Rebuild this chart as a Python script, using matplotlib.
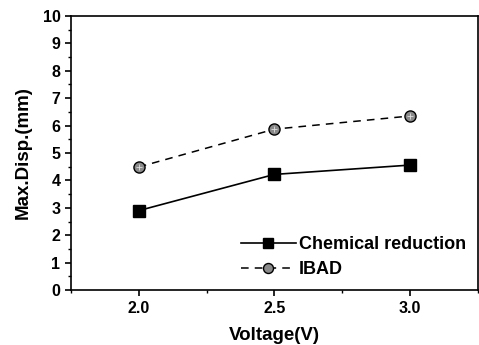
import numpy as np
import matplotlib.pyplot as plt
from matplotlib.ticker import MultipleLocator

plt.rcParams['font.family'] = ['Liberation Sans', 'DejaVu Sans']
plt.rcParams['font.weight'] = 'bold'

# data
voltage = [2.0, 2.5, 3.0]
chem = [2.9, 4.22, 4.56]
ibad = [4.49, 5.87, 6.35]

fig = plt.figure(figsize=(4.79, 3.45), dpi=100)
ax = fig.add_axes([0.148, 0.159, 0.85, 0.795])

ax.plot(voltage, chem, 'k-', lw=1.2, marker='s', ms=8.5, mfc='black', mec='black',
        label='Chemical reduction')
ax.plot(voltage, ibad, 'k--', lw=1.1, marker='o', ms=8, mfc='#8a8a8a', mec='black',
        dashes=(5, 4), label='IBAD')
ax.plot(voltage, ibad, ls='none', marker='+', ms=5, mec='#e0e0e0', mew=0.6)

ax.set_xlim(1.75, 3.25)
ax.set_ylim(0, 10)
ax.set_xticks(voltage)
ax.set_xticklabels(['2.0', '2.5', '3.0'])
ax.xaxis.set_minor_locator(MultipleLocator(0.25))
ax.yaxis.set_major_locator(MultipleLocator(1))
ax.yaxis.set_minor_locator(MultipleLocator(0.5))
ax.tick_params(which='major', direction='out', length=4, width=1.2, labelsize=11.5)
ax.tick_params(which='minor', direction='out', length=2.5, width=1)
for s in ax.spines.values():
    s.set_linewidth(1.2)

ax.set_xlabel('Voltage(V)', fontsize=13.5, fontweight='bold', labelpad=8)
ax.set_ylabel('Max.Disp.(mm)', fontsize=13.5, fontweight='bold', labelpad=8)

ax.legend(loc='lower right', frameon=False, fontsize=13, handlelength=3.0,
          handletextpad=0.2, labelspacing=0.45, borderaxespad=0.25,
          markerscale=0.9)

plt.savefig('out.png', dpi=100)
